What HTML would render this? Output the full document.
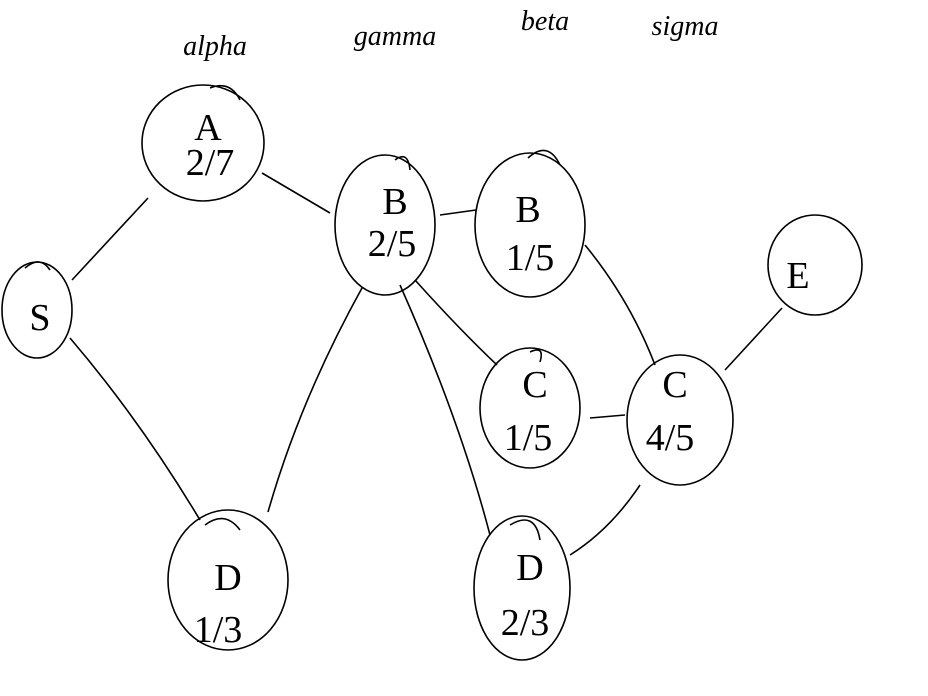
<!DOCTYPE html>
<html><head><style>
html,body{margin:0;padding:0;background:#fff;}
svg{display:block;}
text{font-family:"Liberation Serif",serif;fill:#000;}
</style></head><body>
<svg width="928" height="696" viewBox="0 0 928 696" xmlns="http://www.w3.org/2000/svg">
<g fill="none" stroke="#000" stroke-width="1.6">
<ellipse cx="203" cy="143" rx="61" ry="58"/>
<path d="M210 88 Q230 80 240 100"/>
<ellipse cx="385" cy="225" rx="50" ry="70"/>
<path d="M395 160 Q408 150 410 170"/>
<ellipse cx="530" cy="225" rx="55" ry="72"/>
<path d="M528 158 Q548 140 560 165"/>
<ellipse cx="815" cy="265" rx="47" ry="50"/>
<ellipse cx="37" cy="310" rx="35" ry="48"/>
<path d="M25 268 Q40 255 50 270"/>
<ellipse cx="530" cy="408" rx="50" ry="60"/>
<path d="M530 352 Q545 345 540 362"/>
<ellipse cx="680" cy="420" rx="53" ry="65"/>
<ellipse cx="228" cy="580" rx="60" ry="70"/>
<path d="M205 525 Q225 510 240 530"/>
<ellipse cx="522" cy="588" rx="48" ry="72"/>
<path d="M510 525 Q535 510 540 540"/>
<line x1="72" y1="280" x2="148" y2="198"/>
<path d="M70 338 Q140 420 200 520"/>
<line x1="262" y1="173" x2="330" y2="213"/>
<path d="M362 288 Q300 400 268 512"/>
<line x1="440" y1="215" x2="476" y2="210"/>
<path d="M415 280 Q460 330 497 365"/>
<path d="M400 285 Q460 420 490 535"/>
<path d="M585 245 Q630 300 655 365"/>
<line x1="590" y1="418" x2="625" y2="415"/>
<line x1="725" y1="370" x2="782" y2="308"/>
<path d="M640 485 Q610 530 570 555"/>
</g>
<g font-size="38" text-anchor="middle">
<text x="208" y="140">A</text>
<text x="210" y="175">2/7</text>
<text x="395" y="214">B</text>
<text x="392" y="256">2/5</text>
<text x="528" y="222">B</text>
<text x="530" y="270">1/5</text>
<text x="798" y="288">E</text>
<text x="40" y="330">S</text>
<text x="535" y="397">C</text>
<text x="528" y="450">1/5</text>
<text x="675" y="397">C</text>
<text x="670" y="450">4/5</text>
<text x="228" y="590">D</text>
<text x="218" y="642">1/3</text>
<text x="530" y="580">D</text>
<text x="525" y="635">2/3</text>
</g>
<g font-size="28" font-style="italic" text-anchor="middle">
<text x="215" y="55">alpha</text>
<text x="395" y="45">gamma</text>
<text x="545" y="30">beta</text>
<text x="685" y="35">sigma</text>
</g>
</svg>
</body></html>
